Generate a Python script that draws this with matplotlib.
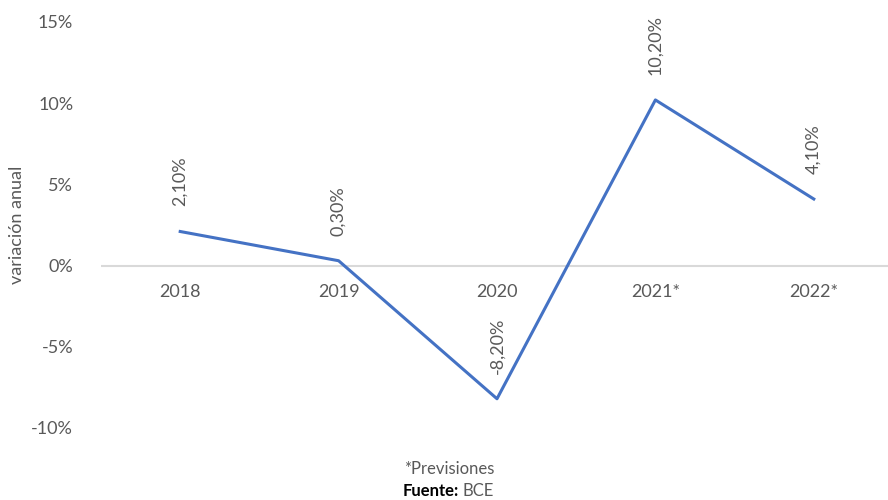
import matplotlib
matplotlib.use('Agg')

import matplotlib.pyplot as plt
from matplotlib.ticker import FuncFormatter

plt.rcParams['font.family'] = ['Lato', 'DejaVu Sans']

# ===== datos =====
anios = ['2018', '2019', '2020', '2021*', '2022*']
variacion = [2.1, 0.3, -8.2, 10.2, 4.1]
etiquetas = ['2,10%', '0,30%', '-8,20%', '10,20%', '4,10%']

gris = '#595959'
azul = '#4472C4'

fig = plt.figure(figsize=(8.88, 5), dpi=100)
ax = fig.add_axes([101 / 888, 1 - 428 / 500, 792 / 888, (428 - 22) / 500])

x = range(len(anios))
ax.plot(x, variacion, color=azul, linewidth=2.2, zorder=3)
ax.axhline(0, color='#D9D9D9', linewidth=1.5, zorder=1)

# etiquetas de datos, giradas sobre cada punto
for i, (v, t) in enumerate(zip(variacion, etiquetas)):
    ax.annotate(t, (i, v), xytext=(0, 18), textcoords='offset points',
                rotation=90, ha='center', va='bottom', fontsize=13, color=gris)

ax.set_xlim(-0.5, len(anios) - 0.5)
ax.set_ylim(-10, 15)
ax.set_yticks([-10, -5, 0, 5, 10, 15])
ax.yaxis.set_major_formatter(FuncFormatter(lambda v, p: f'{v:.0f}%'))
ax.tick_params(axis='y', length=0, labelsize=13, labelcolor=gris, pad=20)

# años justo debajo de la línea del cero
ax.set_xticks([])
for i, a in enumerate(anios):
    ax.text(i, -1.15, a, ha='center', va='top', fontsize=13, color=gris)

for s in ax.spines.values():
    s.set_visible(False)

fig.text(17 / 888, 1 - 225 / 500, 'variación anual', rotation=90,
         ha='center', va='center', fontsize=13, color=gris)

# pie de figura
fig.text(449 / 888, 1 - 469 / 500, '*Previsiones', ha='center', va='center',
         fontsize=12, color=gris)
fig.text(459 / 888, 1 - 491 / 500, 'Fuente:', ha='right', va='center',
         fontsize=12, color='black', fontweight='bold')
fig.text(463 / 888, 1 - 491 / 500, 'BCE', ha='left', va='center',
         fontsize=12, color=gris)

fig.savefig('out.png', dpi=100)
